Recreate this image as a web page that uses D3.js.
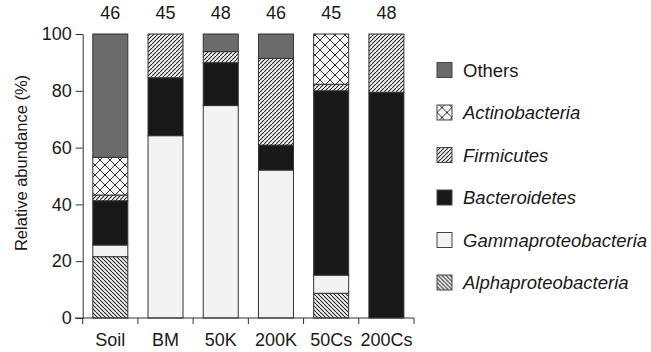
<!DOCTYPE html>
<html><head><meta charset="utf-8">
<script src="https://cdn.jsdelivr.net/npm/d3@7"></script>
<style>body{margin:0;background:#fff}svg{display:block}text{font-family:"Liberation Sans",Arial,sans-serif;fill:#1a1a1a}</style>
</head><body>
<svg id="c" width="651" height="352"></svg>
<script>
const samples = ["Soil","BM","50K","200K","50Cs","200Cs"];
const counts = [46,45,48,46,45,48];
// stacking order bottom -> top
const taxa = ["Alphaproteobacteria","Gammaproteobacteria","Bacteroidetes","Firmicutes","Actinobacteria","Others"];
const alpha   = [21.6, 0,    0,    0,    8.7,  0];
const gamma   = [4.1,  64.2, 74.8, 52.1, 6.4,  0];
const bacter  = [15.6, 20.4, 15.1, 8.8,  64.9, 79.5];
const firmic  = [2.0,  15.4, 3.9,  30.5, 2.3,  20.5];
const actino  = [13.3, 0,    0,    0,    17.7, 0];
const others  = [43.4, 0,    6.2,  8.6,  0,    0];
const yTicks = [0,20,40,60,80,100];
const legendOrder = ["Others","Actinobacteria","Firmicutes","Bacteroidetes","Gammaproteobacteria","Alphaproteobacteria"];

const seriesVals = {Alphaproteobacteria:alpha,Gammaproteobacteria:gamma,Bacteroidetes:bacter,Firmicutes:firmic,Actinobacteria:actino,Others:others};
const rows = samples.map((s,i)=>{const r={sample:s};taxa.forEach(t=>r[t]=seriesVals[t][i]);return r;});

const svg = d3.select("#c");
const defs = svg.append("defs");
function hatch(id, dir, spacing){
  const p = defs.append("pattern").attr("id",id).attr("patternUnits","userSpaceOnUse")
    .attr("width",spacing).attr("height",spacing);
  p.append("rect").attr("width",spacing).attr("height",spacing).attr("fill","#f4f4f4");
  const s=spacing;
  const lines = dir==="up" ? [[0,s,s,0],[-s,s,0,0],[s,2*s,2*s,s]] : [[0,0,s,s],[-s,0,0,s],[s,0,2*s,s]];
  lines.forEach(l=>p.append("line").attr("x1",l[0]).attr("y1",l[1]).attr("x2",l[2]).attr("y2",l[3]).attr("stroke","#2a2a2a").attr("stroke-width",1.1));
  return p;
}
hatch("pFirm","up",4);
hatch("pAlpha","down",4);
(function(){
  const s=10;
  const p=defs.append("pattern").attr("id","pActino").attr("patternUnits","userSpaceOnUse").attr("width",s).attr("height",s);
  p.append("rect").attr("width",s).attr("height",s).attr("fill","#f6f6f6");
  [[0,0,s,s],[0,s,s,0]].forEach(l=>p.append("line").attr("x1",l[0]).attr("y1",l[1]).attr("x2",l[2]).attr("y2",l[3]).attr("stroke","#333").attr("stroke-width",1));
})();
const fills = {Others:"#6b6b6b",Actinobacteria:"url(#pActino)",Firmicutes:"url(#pFirm)",Bacteroidetes:"#181818",Gammaproteobacteria:"#f3f3f3",Alphaproteobacteria:"url(#pAlpha)"};

const x = d3.scaleBand().domain(samples).range([82.7,414]).paddingInner(0.366).paddingOuter(0.183);
const y = d3.scaleLinear().domain([0,100]).range([318,34]);

const stack = d3.stack().keys(taxa)(rows);
svg.append("g").selectAll("g").data(stack).join("g")
  .attr("fill",d=>fills[d.key])
  .selectAll("rect").data(d=>d.filter(e=>e[1]-e[0]>0)).join("rect")
  .attr("x",d=>x(d.data.sample)).attr("width",x.bandwidth())
  .attr("y",d=>y(d[1])).attr("height",d=>y(d[0])-y(d[1]))
  .attr("stroke","#333").attr("stroke-width",1);

// y axis
const ya = svg.append("g").attr("transform","translate(82.7,0)")
  .call(d3.axisLeft(y).tickValues(yTicks).tickSize(7).tickPadding(4));
ya.select(".domain").attr("stroke","#333");
ya.selectAll(".tick line").attr("stroke","#333");
ya.selectAll("text").attr("font-size",18).attr("font-family","Liberation Sans, Arial, sans-serif").attr("fill","#1a1a1a");

// x axis
const xa = svg.append("g").attr("transform","translate(0,318)");
xa.append("line").attr("x1",75).attr("x2",414).attr("stroke","#333");
const bounds = samples.map(s=>x(s)-x.step()*x.paddingInner()/2).concat([414]);
bounds[0]=82.7;
xa.selectAll("line.t").data(bounds).join("line").attr("class","t")
  .attr("x1",d=>d).attr("x2",d=>d).attr("y1",0).attr("y2",6).attr("stroke","#333");
xa.selectAll("text").data(samples).join("text")
  .attr("x",d=>x(d)+x.bandwidth()/2).attr("y",28).attr("text-anchor","middle").attr("font-size",18).text(d=>d);

// counts on top
svg.append("g").selectAll("text").data(samples).join("text")
  .attr("x",d=>x(d)+x.bandwidth()/2).attr("y",19).attr("text-anchor","middle").attr("font-size",18)
  .text((d,i)=>counts[i]);

// y label
svg.append("text").attr("transform","translate(27,163) rotate(-90)").attr("text-anchor","middle")
  .attr("font-size",16.5).text("Relative abundance (%)");

// legend
const lg = svg.append("g").selectAll("g").data(legendOrder).join("g")
  .attr("transform",(d,i)=>`translate(437,${70+i*42.5})`);
lg.append("rect").attr("x",0).attr("y",-7.5).attr("width",15).attr("height",15)
  .attr("fill",d=>fills[d]).attr("stroke","#444").attr("stroke-width",1);
lg.append("text").attr("x",26).attr("y",6.5).attr("font-size",18.5)
  .attr("font-style",d=>d==="Others"?"normal":"italic").text(d=>d);
</script>
</body></html>
